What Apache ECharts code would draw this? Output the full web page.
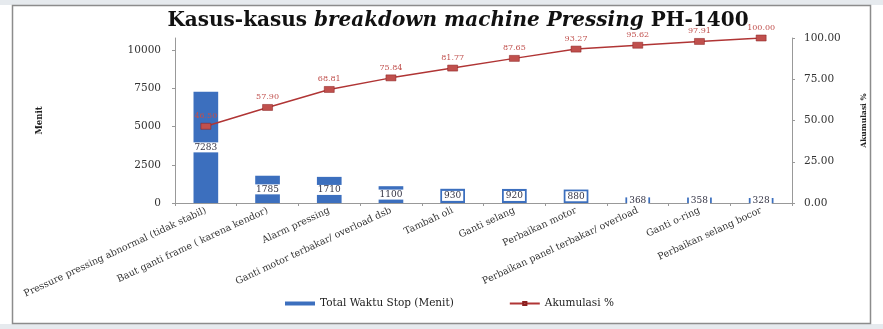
<!DOCTYPE html>
<html>
<head>
<meta charset="utf-8">
<script src="https://cdn.jsdelivr.net/npm/echarts@6/dist/echarts.min.js"></script>
<style>
html,body{margin:0;padding:0;background:#fff;}
#chart{width:883px;height:329px;}
</style>
</head>
<body>
<div id="chart"></div>
<script>
const categories = [
  "Pressure pressing abnormal (tidak stabil)",
  "Baut ganti frame ( karena kendor)",
  "Alarm pressing",
  "Ganti motor terbakar/ overload dsb",
  "Tambah oli",
  "Ganti selang",
  "Perbaikan motor",
  "Perbaikan panel terbakar/ overload",
  "Ganti o-ring",
  "Perbaikan selang bocor"
];
const waktuStop = [7283, 1785, 1710, 1100, 930, 920, 880, 368, 358, 328];
const akumulasi = [46.50, 57.90, 68.81, 75.84, 81.77, 87.65, 93.27, 95.62, 97.91, 100.00];
const leftTicks = [0, 2500, 5000, 7500, 10000];
const rightTicks = [0, 25, 50, 75, 100];

const FONT = '"DejaVu Serif", "Liberation Serif", serif';
const chart = echarts.init(document.getElementById('chart'));
chart.setOption({
  animation: false,
  backgroundColor: '#fff',
  textStyle: {fontFamily: FONT},
  graphic: [
    {type: 'rect', shape: {x: 0, y: 0, width: 883, height: 5}, style: {fill: '#e6eaee'}, silent: true, z: -10},
    {type: 'rect', shape: {x: 0, y: 324, width: 883, height: 5}, style: {fill: '#e6eaee'}, silent: true, z: -10},
    {type: 'rect', shape: {x: 12.5, y: 5.5, width: 858, height: 318}, style: {fill: 'none', stroke: '#8c8c8c', lineWidth: 1.5}, silent: true, z: -5}
  ],
  title: {
    text: '{b|Kasus-kasus }{i|breakdown machine Pressing}{b| PH-1400}',
    left: 453, top: 6, textAlign: 'center',
    textStyle: {
      rich: {
        b: {fontFamily: FONT, fontWeight: 'bold', fontSize: 20, color: '#111'},
        i: {fontFamily: FONT, fontWeight: 'bold', fontStyle: 'italic', fontSize: 20, color: '#111'}
      }
    }
  },
  legend: {
    bottom: 15, left: 280,
    itemWidth: 30, itemHeight: 4, itemGap: 55,
    textStyle: {fontFamily: FONT, fontSize: 10.5, color: '#222'},
    data: [
      {name: 'Total Waktu Stop (Menit)', icon: 'rect'},
      {name: 'Akumulasi %'}
    ]
  },
  grid: {left: 175, right: 91, top: 38, bottom: 126},
  xAxis: {
    type: 'category', data: categories,
    axisLine: {lineStyle: {color: '#999'}},
    axisTick: {show: true, lineStyle: {color: '#999'}, length: 3},
    axisLabel: {rotate: 25, interval: 0, fontFamily: FONT, fontSize: 9.5, color: '#333', margin: 7}
  },
  yAxis: [
    {
      type: 'value', min: 0, max: 10800, interval: 2500,
      name: 'Menit', nameLocation: 'middle', nameGap: 131, nameRotate: 90,
      nameTextStyle: {fontFamily: FONT, fontSize: 8.5, fontWeight: 'bold', color: '#222'},
      axisLine: {show: true, lineStyle: {color: '#999'}},
      axisTick: {show: true, length: 3, lineStyle: {color: '#999'}},
      axisLabel: {showMaxLabel: false, fontFamily: FONT, fontSize: 10.5, color: '#333', margin: 14, formatter: v => String(v)},
      splitLine: {show: false}
    },
    {
      type: 'value', min: 0, max: 100, interval: 25,
      name: 'Akumulasi %', nameLocation: 'middle', nameGap: 68, nameRotate: 90,
      nameTextStyle: {fontFamily: FONT, fontSize: 7.5, fontWeight: 'bold', color: '#222'},
      axisLine: {show: true, lineStyle: {color: '#999'}},
      axisTick: {show: true, length: 3, lineStyle: {color: '#999'}},
      axisLabel: {fontFamily: FONT, fontSize: 10.5, color: '#333', margin: 12, formatter: v => v.toFixed(2)},
      splitLine: {show: false}
    }
  ],
  series: [
    {
      name: 'Total Waktu Stop (Menit)', type: 'bar', yAxisIndex: 0,
      data: waktuStop, barWidth: '40%',
      itemStyle: {color: '#3c6fbe'},
      label: {
        show: true, position: 'inside', fontFamily: FONT, fontSize: 9, color: '#334',
        backgroundColor: '#fff', padding: [1, 2, 0, 2]
      }
    },
    {
      name: 'Akumulasi %', type: 'line', yAxisIndex: 1,
      data: akumulasi, symbol: 'rect', symbolSize: [10, 6],
      lineStyle: {color: '#b03535', width: 1.5},
      itemStyle: {color: '#c0504d', borderColor: '#8b2020', borderWidth: 0.5},
      label: {show: true, position: 'top', distance: 3, fontFamily: FONT, fontSize: 8, color: '#c0504d',
        formatter: p => p.value.toFixed(2)},
      z: 5
    }
  ]
});
</script>
</body>
</html>
